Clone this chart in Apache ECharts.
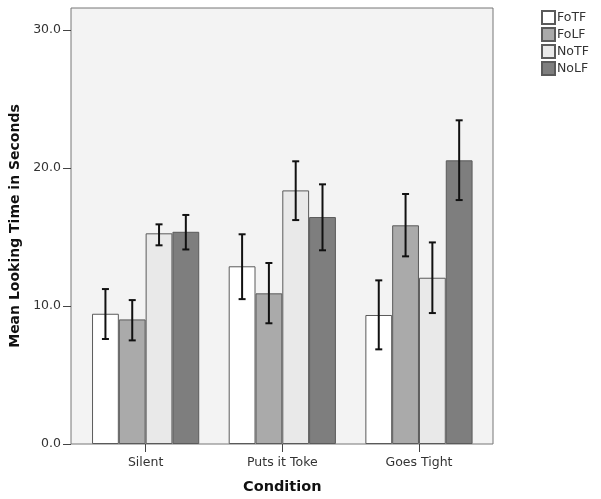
<!DOCTYPE html>
<html><head><meta charset="utf-8">
<script src="https://cdn.jsdelivr.net/npm/echarts@6/dist/echarts.min.js"></script>
<style>html,body{margin:0;padding:0;background:#fff}#c{width:601px;height:499px}</style>
</head><body><div id="c"></div>
<script>
var categories = ['Silent', 'Puts it Toke', 'Goes Tight'];
var seriesNames = ['FoTF', 'FoLF', 'NoTF', 'NoLF'];
var FoTF = [9.44, 12.88, 9.35];
var FoLF = [9.03, 10.92, 15.85];
var NoTF = [15.27, 18.38, 12.05];
var NoLF = [15.38, 16.45, 20.56];
var FoTF_lo = [7.61, 10.5, 6.86], FoTF_hi = [11.23, 15.2, 11.86];
var FoLF_lo = [7.51, 8.75, 13.6], FoLF_hi = [10.43, 13.12, 18.12];
var NoTF_lo = [14.4, 16.23, 9.49], NoTF_hi = [15.92, 20.49, 14.61];
var NoLF_lo = [14.1, 14.04, 17.68], NoLF_hi = [16.6, 18.82, 23.46];
var yTicks = [0, 10, 20, 30];

var means = [FoTF, FoLF, NoTF, NoLF];
var lows = [FoTF_lo, FoLF_lo, NoTF_lo, NoLF_lo];
var highs = [FoTF_hi, FoLF_hi, NoTF_hi, NoLF_hi];
var colors = ['#ffffff', '#aaaaaa', '#e9e9e9', '#7e7e7e'];
var FONT = 'DejaVu Sans';
var BW = 26.8;
var YMAX = 31.6;

var chart = echarts.init(document.getElementById('c'), null, {renderer: 'canvas'});
var series = [];
seriesNames.forEach(function (n, i) {
  series.push({
    name: n, type: 'bar', xAxisIndex: 0, yAxisIndex: 0,
    data: means[i], barWidth: BW, barGap: '0%',
    itemStyle: {color: colors[i], borderColor: '#5a5a5a', borderWidth: 1},
    emphasis: {disabled: true}
  });
});
seriesNames.forEach(function (n, i) {
  series.push({
    type: 'custom', xAxisIndex: 0, yAxisIndex: 0, z: 10, silent: true,
    data: categories.map(function (c, k) { return [k, lows[i][k], highs[i][k]]; }),
    renderItem: function (params, api) {
      var k = api.value(0);
      var lo = api.coord([k, api.value(1)]);
      var hi = api.coord([k, api.value(2)]);
      var x = lo[0] + (i - 1.5) * BW;
      var cap = 3.5;
      var st = {stroke: '#111', lineWidth: 2};
      return {type: 'group', children: [
        {type: 'line', shape: {x1: x, y1: lo[1], x2: x, y2: hi[1]}, style: st},
        {type: 'line', shape: {x1: x - cap, y1: lo[1], x2: x + cap, y2: lo[1]}, style: st},
        {type: 'line', shape: {x1: x - cap, y1: hi[1], x2: x + cap, y2: hi[1]}, style: st}
      ]};
    }
  });
});

chart.setOption({
  animation: false,
  backgroundColor: '#ffffff',
  textStyle: {fontFamily: FONT},
  legend: {
    data: seriesNames, orient: 'vertical', left: 541, top: 10, padding: 0,
    itemWidth: 13, itemHeight: 13, itemGap: 2, icon: 'rect',
    selectedMode: false,
    textStyle: {fontFamily: FONT, fontSize: 12.5, color: '#333', padding: [0, 0, 0, -3]}
  },
  grid: [
    {left: 77.3, width: 410, top: 8, bottom: 55, show: false, outerBoundsMode: 'none', containLabel: false},
    {left: 71, right: 108, top: 8, bottom: 55, show: true, backgroundColor: '#f3f3f3', borderColor: '#777', borderWidth: 1, outerBoundsMode: 'none', containLabel: false}
  ],
  xAxis: [
    {type: 'category', gridIndex: 0, data: categories,
     axisLine: {show: false},
     axisTick: {show: true, alignWithLabel: true, length: 8, lineStyle: {color: '#444'}},
     axisLabel: {fontFamily: FONT, fontSize: 12.5, color: '#333', margin: 12},
     name: 'Condition', nameLocation: 'middle', nameGap: 36,
     nameTextStyle: {fontFamily: FONT, fontSize: 14.5, fontWeight: 'bold', color: '#111'}},
    {type: 'value', gridIndex: 1, show: false, min: 0, max: 1}
  ],
  yAxis: [
    {type: 'value', gridIndex: 0, min: 0, max: YMAX, show: false},
    {type: 'value', gridIndex: 1, min: 0, max: YMAX, interval: 10,
     axisLine: {show: false},
     axisTick: {show: true, length: 8, customValues: yTicks, lineStyle: {color: '#444'}},
     splitLine: {show: false},
     axisLabel: {fontFamily: FONT, fontSize: 12.5, color: '#333', margin: 10, customValues: yTicks,
       formatter: function (v) { return yTicks.indexOf(v) >= 0 ? v.toFixed(1) : ''; }},
     name: 'Mean Looking Time in Seconds', nameLocation: 'middle', nameGap: 42,
     nameTextStyle: {fontFamily: FONT, fontSize: 14, fontWeight: 'bold', color: '#111'}}
  ],
  series: series
});
</script></body></html>
